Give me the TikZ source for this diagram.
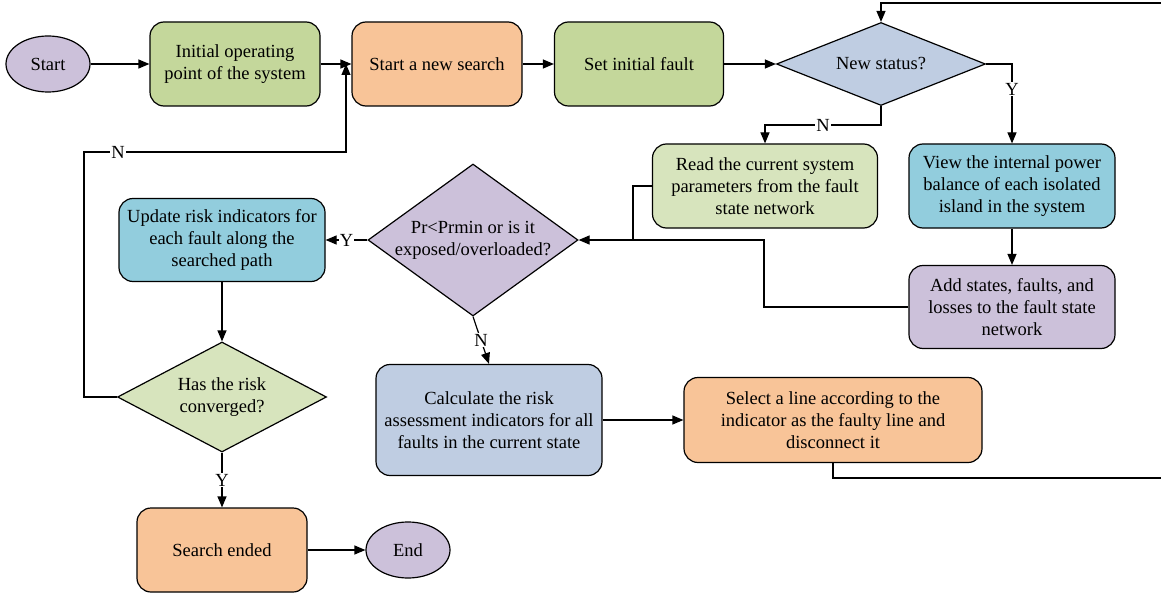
\documentclass[tikz,border=0pt]{standalone}
\usepackage{fontspec}
\setmainfont{Liberation Serif}
\usetikzlibrary{shapes.geometric,arrows.meta}

\definecolor{lilac}{RGB}{204,193,218}
\definecolor{olive}{RGB}{196,215,155}
\definecolor{peach}{RGB}{248,196,152}
\definecolor{steel}{RGB}{191,205,226}
\definecolor{sage}{RGB}{215,228,189}
\definecolor{aqua}{RGB}{146,205,221}

\tikzset{
  terminal/.style={ellipse,draw,line width=1.2pt,fill=lilac,minimum width=84,minimum height=56,inner sep=0pt},
  box/.style={rectangle,rounded corners=14pt,draw,line width=1.2pt,align=center,minimum width=170,minimum height=84,inner sep=2pt},
  decision/.style={diamond,draw,line width=1.2pt,inner sep=0pt},
  arr/.style={line width=1.2pt,-{Triangle[length=11pt,width=9pt]}},
  lbl/.style={fill=white,inner sep=1pt}
}

\begin{document}
\begin{tikzpicture}[x=1pt,y=-1pt,font=\fontsize{18.5}{22}\selectfont]
    \useasboundingbox (0,0) rectangle (1161,596);
    % top row
    \node[terminal] (start) at (48,64) {Start};
    \node[box,fill=olive] (init) at (235,64) {Initial operating\\point of the system};
    \node[box,fill=peach] (search) at (437,64) {Start a new search};
    \node[box,fill=olive,minimum width=169] (fault) at (639,64) {Set initial fault};
    \node[decision,fill=steel,minimum width=209,minimum height=83,label={center:New status?}] (status) at (881,64) {};
    % middle row
    \node[box,fill=sage,minimum width=225] (read) at (765,186) {Read the current system\\parameters from the fault\\state network};
    \node[box,fill=aqua,minimum width=206] (view) at (1012,186) {View the internal power\\balance of each isolated\\island in the system};
    \node[box,fill=lilac,minimum width=206,minimum height=83] (add) at (1012,307) {Add states, faults, and\\losses to the fault state\\network};
    \node[decision,fill=lilac,minimum width=210,minimum height=152,label={[align=center]center:Pr<Prmin or is it\\exposed/overloaded?}] (pr) at (473,240) {};
    \node[box,fill=aqua,minimum width=206,minimum height=83] (update) at (222,240) {Update risk indicators for\\each fault along the\\searched path};
    % bottom row
    \node[decision,fill=sage,minimum width=209,minimum height=110,label={[align=center]center:Has the risk\\converged?}] (risk) at (222,397) {};
    \node[box,fill=steel,minimum width=226,minimum height=111] (calc) at (489,420) {Calculate the risk\\assessment indicators for all\\faults in the current state};
    \node[box,fill=peach,minimum width=298,minimum height=85] (select) at (833,420) {Select a line according to the\\indicator as the faulty line and\\disconnect it};
    \node[box,fill=peach] (ended) at (222,550) {Search ended};
    \node[terminal] (stop) at (408,550) {End};

    \coordinate (ncorner) at (881,125);
    \coordinate (rdjoin) at (633,240);
    \coordinate (addjoin) at (764,240);
    \coordinate (loopbr) at (1175,478);
    \coordinate (looptr) at (1175,3);
    \coordinate (nloop) at (84,152);
    \coordinate (jn) at (346,64);

    \draw[arr] (start) -- (init);
    \draw[arr] (init) -- (search);
    \draw[arr] (search) -- (fault);
    \draw[arr] (fault) -- (status);
    \draw[arr] (status.east) -| node[pos=.66,lbl]{Y} (view.north);
    \draw[arr] (status.south) -- (ncorner) -| node[pos=.25,lbl]{N} (read.north);
    \draw[arr] (view) -- (add);
    \draw[line width=1.2pt] (add.west) -| (addjoin) -- (rdjoin);
    \draw[arr] (read.west) -| (rdjoin) -- (pr.east);
    \draw[arr] (pr.west) -- node[lbl]{Y} (update.east);
    \draw[arr] (pr.south) -- node[lbl]{N} (calc.north);
    \draw[arr] (calc) -- (select);
    \draw[arr] (select.south) |- (loopbr) -- (looptr) -| (status.north);
    \draw[arr] (update) -- (risk);
    \draw[arr] (risk.west) -| (nloop) -- node[pos=.13,lbl]{N} (nloop -| jn) -- (jn);
    \draw[arr] (risk.south) -- node[lbl]{Y} (ended.north);
    \draw[arr] (ended) -- (stop);
  \end{tikzpicture}
\end{document}
